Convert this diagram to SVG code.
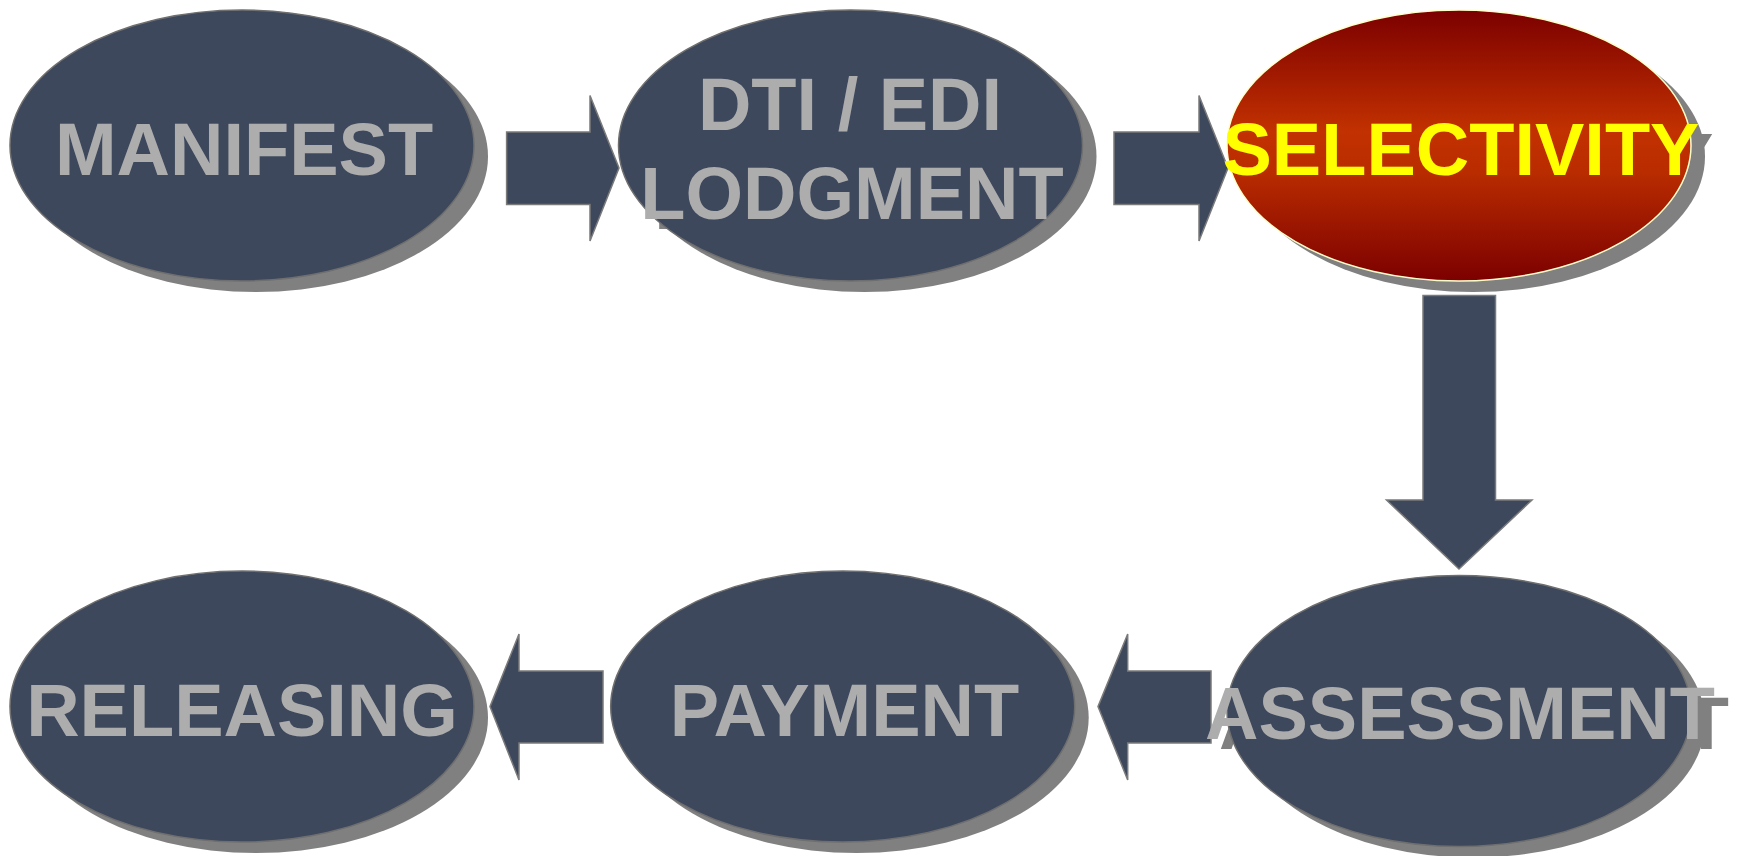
<svg xmlns="http://www.w3.org/2000/svg" width="1742" height="856" viewBox="0 0 1742 856">
<defs>
<linearGradient id="redGrad" x1="0" y1="0" x2="0" y2="1">
<stop offset="0" stop-color="#7C0000"/>
<stop offset="0.45" stop-color="#C23100"/>
<stop offset="0.6" stop-color="#B92C00"/>
<stop offset="1" stop-color="#7C0000"/>
</linearGradient>
</defs>
<style>
.shadow{fill:#808080;}
.ell{fill:#3D485C;stroke:#6F6F6F;stroke-width:1.5;}
.sel{fill:url(#redGrad);stroke:#FFFFCC;stroke-width:1.5;}
.arrow{fill:#3D485C;stroke:#7A7A7A;stroke-width:1.5;stroke-linejoin:miter;}
.lbl{font-family:"Liberation Sans",Arial,sans-serif;font-weight:bold;font-size:74px;text-anchor:middle;fill:#ADADAD;}
.lblsh{font-family:"Liberation Sans",Arial,sans-serif;font-weight:bold;font-size:74px;text-anchor:middle;fill:#808080;}
.sellbl{fill:#FFFF00;}
</style>
<rect width="1742" height="856" fill="#FFFFFF"/>

<g id="connectors">
<polygon class="arrow" points="506.6,132 590,132 590,95.5 619,168 590,241 590,204.5 506.6,204.5"/>
<polygon class="arrow" points="1114,132 1199,132 1199,95.5 1228,168 1199,241 1199,204.5 1114,204.5"/>
<polygon class="arrow" points="1423,295.5 1495.5,295.5 1495.5,500 1532,500 1459,569 1386.5,500 1423,500"/>
<polygon class="arrow" points="1211,671 1127.7,671 1127.7,634 1098,706.6 1127.7,780 1127.7,743 1211,743"/>
<polygon class="arrow" points="603,671 519,671 519,634 490,706.6 519,780 519,743 603,743"/>
</g>

<g id="node-manifest">
<ellipse class="shadow" cx="256" cy="156.5" rx="232" ry="135.5"/>
<text class="lblsh" x="258" y="184.5">MANIFEST</text>
<ellipse class="ell" cx="242" cy="145.5" rx="232" ry="135.5"/>
<text class="lbl" x="244" y="174.5">MANIFEST</text>
</g>

<g id="node-lodgment">
<ellipse class="shadow" cx="864.5" cy="156.5" rx="232" ry="135.5"/>
<text class="lblsh" x="864" y="140">DTI / EDI</text>
<text class="lblsh" x="866" y="229">LODGMENT</text>
<ellipse class="ell" cx="850.5" cy="145.5" rx="232" ry="135.5"/>
<text class="lbl" x="850" y="130">DTI / EDI</text>
<text class="lbl" x="852" y="219">LODGMENT</text>
</g>

<g id="node-selectivity">
<ellipse class="shadow" cx="1473" cy="156.5" rx="232" ry="135.5"/>
<text class="lblsh" x="1475" y="184.5">SELECTIVITY</text>
<ellipse class="sel" cx="1459" cy="145.5" rx="232" ry="135.5"/>
<text class="lbl sellbl" x="1461" y="174.5">SELECTIVITY</text>
</g>

<g id="node-assessment">
<ellipse class="shadow" cx="1473" cy="722" rx="232" ry="135.5"/>
<text class="lblsh" x="1474" y="749">ASSESSMENT</text>
<ellipse class="ell" cx="1459" cy="711" rx="232" ry="135.5"/>
<text class="lbl" x="1460" y="739">ASSESSMENT</text>
</g>

<g id="node-payment">
<ellipse class="shadow" cx="856.7" cy="717.6" rx="232" ry="135.5"/>
<text class="lblsh" x="858.5" y="745.5">PAYMENT</text>
<ellipse class="ell" cx="842.7" cy="706.6" rx="232" ry="135.5"/>
<text class="lbl" x="844.5" y="735.5">PAYMENT</text>
</g>

<g id="node-releasing">
<ellipse class="shadow" cx="256" cy="717.6" rx="232" ry="135.5"/>
<text class="lblsh" x="256" y="745.5">RELEASING</text>
<ellipse class="ell" cx="242" cy="706.6" rx="232" ry="135.5"/>
<text class="lbl" x="242" y="735.5">RELEASING</text>
</g>
</svg>
